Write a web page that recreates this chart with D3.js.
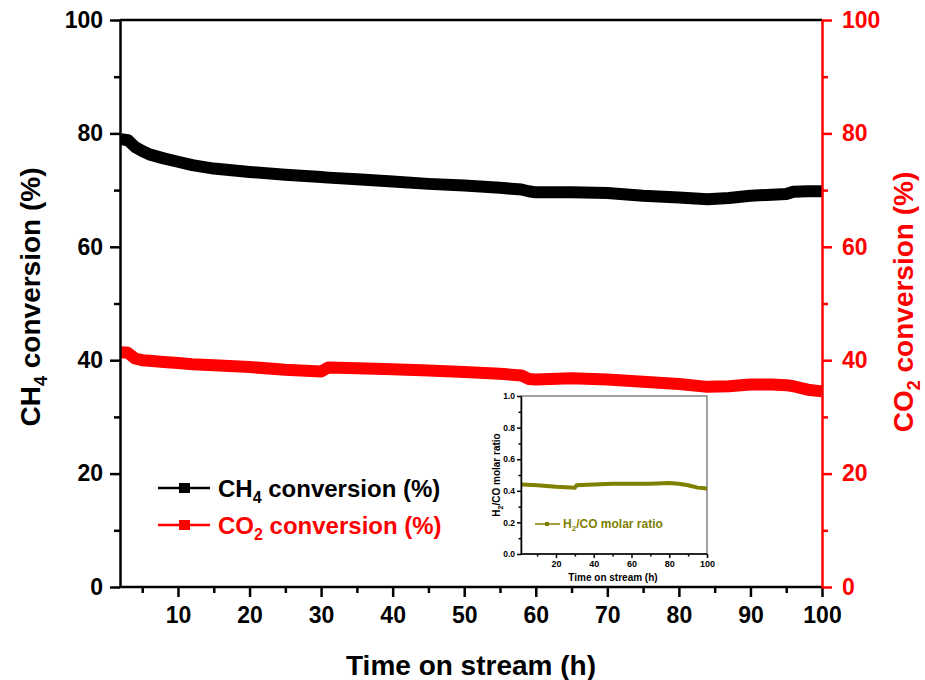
<!DOCTYPE html>
<html>
<head>
<meta charset="utf-8">
<script src="https://cdn.jsdelivr.net/npm/d3@7"></script>
<style>
  body { margin: 0; background: #fff; }
  text { font-family: Arial, "Liberation Sans", sans-serif; font-weight: bold; }
</style>
</head>
<body>
<div id="chart"></div>
<script>
// time on stream (h)
const hours = [2, 3, 4, 5, 6, 8, 10, 12, 15, 20, 25, 30, 31, 35, 40, 45, 50, 55, 58, 59,
  60, 65, 70, 75, 80, 84, 87, 90, 93, 95, 96, 98, 100];
const ch4Conv = [79.0, 78.8, 77.6, 76.9, 76.3, 75.6, 75.0, 74.4, 73.8, 73.2, 72.7, 72.3, 72.2,
  71.9, 71.5, 71.1, 70.8, 70.4, 70.1, 69.8, 69.6, 69.6, 69.5, 69.0, 68.7, 68.4, 68.6, 69.0,
  69.2, 69.3, 69.7, 69.8, 69.8];
const co2Conv = [41.4, 41.3, 40.3, 40.0, 39.9, 39.7, 39.5, 39.3, 39.1, 38.8, 38.3, 38.0, 38.7,
  38.6, 38.4, 38.2, 37.9, 37.6, 37.3, 36.7, 36.6, 36.8, 36.6, 36.2, 35.8, 35.3, 35.4, 35.7,
  35.7, 35.6, 35.4, 34.8, 34.5];

// inset: H2/CO molar ratio
const ratioHours = [2, 10, 20, 30, 31, 40, 50, 60, 70, 80, 85, 90, 95, 100];
const h2coRatio = [0.44, 0.435, 0.425, 0.42, 0.435, 0.44, 0.445, 0.445, 0.445, 0.45, 0.445,
  0.435, 0.42, 0.415];

const xTicks = [10, 20, 30, 40, 50, 60, 70, 80, 90, 100];
const xMinor = [5, 15, 25, 35, 45, 55, 65, 75, 85, 95];
const yTicks = [0, 20, 40, 60, 80, 100];
const yMinor = [10, 30, 50, 70, 90];
const insetXTicks = [20, 40, 60, 80, 100];
const insetXMinor = [10, 30, 50, 70, 90];
const insetYTicks = [0, 0.2, 0.4, 0.6, 0.8, 1.0];
const insetYMinor = [0.1, 0.3, 0.5, 0.7, 0.9];

const W = 925, H = 680;
const svg = d3.select("#chart").append("svg").attr("width", W).attr("height", H);

const x = d3.scaleLinear().domain([2, 100]).range([120.75, 822]);
const y = d3.scaleLinear().domain([0, 100]).range([587, 20]);
const y2 = d3.scaleLinear().domain([0, 100]).range([587, 20]);

// frame top / bottom
svg.append("line").attr("x1", 120).attr("x2", 822).attr("y1", 20).attr("y2", 20)
  .attr("stroke", "#000").attr("stroke-width", 2.5);

// series bands
const line = (ys) => d3.line().x((d, i) => x(hours[i])).y((d) => ys(d));
svg.append("path").datum(ch4Conv).attr("d", line(y)).attr("fill", "none")
  .attr("stroke", "#000").attr("stroke-width", 12).attr("stroke-linejoin", "round");
svg.append("path").datum(co2Conv).attr("d", line(y2)).attr("fill", "none")
  .attr("stroke", "#ff0000").attr("stroke-width", 12).attr("stroke-linejoin", "round");

function styleAxis(g, color, width, fs) {
  g.select(".domain").attr("stroke", color).attr("stroke-width", width);
  g.selectAll(".tick line").attr("stroke", color).attr("stroke-width", width);
  g.selectAll(".tick text").attr("fill", color).style("font-size", fs + "px")
    .style("font-family", "Arial, 'Liberation Sans', sans-serif").style("font-weight", "bold");
}

// bottom axis
const gx = svg.append("g").attr("transform", "translate(0,587)")
  .call(d3.axisBottom(x).tickValues(xTicks).tickSize(10).tickPadding(10).tickSizeOuter(0));
styleAxis(gx, "#000", 2.5, 23);
gx.select(".domain").attr("d", "M120,0H822");
svg.append("g").attr("transform", "translate(0,587)")
  .call(d3.axisBottom(x).tickValues(xMinor).tickSize(6).tickFormat("").tickSizeOuter(0))
  .call((g) => { g.select(".domain").remove(); styleAxis(g, "#000", 2.5, 10); });

// left axis
const gy = svg.append("g").attr("transform", "translate(120,0)")
  .call(d3.axisLeft(y).tickValues(yTicks).tickSize(10).tickPadding(7).tickSizeOuter(0));
styleAxis(gy, "#000", 2.5, 23);
svg.append("g").attr("transform", "translate(120,0)")
  .call(d3.axisLeft(y).tickValues(yMinor).tickSize(6).tickFormat("").tickSizeOuter(0))
  .call((g) => { g.select(".domain").remove(); styleAxis(g, "#000", 2.5, 10); });

// right axis (red)
const gy2 = svg.append("g").attr("transform", "translate(822,0)")
  .call(d3.axisRight(y2).tickValues(yTicks).tickSize(10).tickPadding(10).tickSizeOuter(0));
styleAxis(gy2, "#ff0000", 2.5, 23);
svg.append("g").attr("transform", "translate(822,0)")
  .call(d3.axisRight(y2).tickValues(yMinor).tickSize(6).tickFormat("").tickSizeOuter(0))
  .call((g) => { g.select(".domain").remove(); styleAxis(g, "#ff0000", 2.5, 10); });

// axis titles
svg.append("text").attr("x", 471).attr("y", 675).attr("text-anchor", "middle")
  .style("font-size", "28px").text("Time on stream (h)");

function subTitle(sel, a, sub, b, fs, color) {
  sel.attr("fill", color).style("font-size", fs + "px");
  sel.append("tspan").text(a);
  sel.append("tspan").text(sub).style("font-size", Math.round(fs * 0.65) + "px")
    .attr("dy", fs * 0.25);
  sel.append("tspan").text(b).attr("dy", -fs * 0.25);
  return sel;
}

subTitle(svg.append("text").attr("text-anchor", "middle")
  .attr("transform", "translate(40,297) rotate(-90)"), "CH", "4", " conversion (%)", 28, "#000");
subTitle(svg.append("text").attr("text-anchor", "middle")
  .attr("transform", "translate(913,302) rotate(-90)"), "CO", "2", " conversion (%)", 28, "#ff0000");

// legend
const legend = [
  { label: ["CH", "4", " conversion (%)"], color: "#000", yy: 488 },
  { label: ["CO", "2", " conversion (%)"], color: "#ff0000", yy: 525 }
];
legend.forEach((l) => {
  svg.append("line").attr("x1", 158).attr("x2", 210).attr("y1", l.yy).attr("y2", l.yy)
    .attr("stroke", l.color).attr("stroke-width", 2.5);
  svg.append("rect").attr("x", 179).attr("y", l.yy - 5).attr("width", 11).attr("height", 10)
    .attr("fill", l.color);
  subTitle(svg.append("text").attr("x", 218).attr("y", l.yy + 8.5),
    l.label[0], l.label[1], l.label[2], 24, l.color);
});

// ---- inset ----
const ix = d3.scaleLinear().domain([2, 100]).range([522, 707]);
const iy = d3.scaleLinear().domain([0, 1]).range([554, 396]);
const inset = svg.append("g");
inset.append("rect").attr("x", 521).attr("y", 396).attr("width", 186).attr("height", 158)
  .attr("fill", "#fff").attr("stroke", "#444").attr("stroke-width", 1);

inset.append("path").datum(h2coRatio)
  .attr("d", d3.line().x((d, i) => ix(ratioHours[i])).y((d) => iy(d)))
  .attr("fill", "none").attr("stroke", "#808000").attr("stroke-width", 4);

const igx = inset.append("g").attr("transform", "translate(0,554)")
  .call(d3.axisBottom(ix).tickValues(insetXTicks).tickSize(4).tickPadding(3).tickSizeOuter(0));
styleAxis(igx, "#000", 1.5, 9);
igx.select(".domain").attr("d", "M521,0H707");
inset.append("g").attr("transform", "translate(0,554)")
  .call(d3.axisBottom(ix).tickValues(insetXMinor).tickSize(2.5).tickFormat("").tickSizeOuter(0))
  .call((g) => { g.select(".domain").remove(); styleAxis(g, "#000", 1.5, 8); });

const igy = inset.append("g").attr("transform", "translate(521,0)")
  .call(d3.axisLeft(iy).tickValues(insetYTicks).tickSize(4).tickPadding(2)
    .tickFormat(d3.format(".1f")).tickSizeOuter(0));
styleAxis(igy, "#000", 1.5, 8.5);
inset.append("g").attr("transform", "translate(521,0)")
  .call(d3.axisLeft(iy).tickValues(insetYMinor).tickSize(2.5).tickFormat("").tickSizeOuter(0))
  .call((g) => { g.select(".domain").remove(); styleAxis(g, "#000", 1.5, 8); });

inset.append("text").attr("x", 613).attr("y", 581).attr("text-anchor", "middle")
  .style("font-size", "10px").text("Time on stream (h)");
subTitle(inset.append("text").attr("text-anchor", "middle")
  .attr("transform", "translate(500,475) rotate(-90)"), "H", "2", "/CO molar ratio", 10, "#000");

inset.append("line").attr("x1", 535).attr("x2", 560).attr("y1", 524).attr("y2", 524)
  .attr("stroke", "#808000").attr("stroke-width", 1.5);
inset.append("rect").attr("x", 545).attr("y", 522).attr("width", 4).attr("height", 4)
  .attr("fill", "#808000");
subTitle(inset.append("text").attr("x", 563).attr("y", 528), "H", "2", "/CO molar ratio", 12, "#808000");
</script>
</body>
</html>
